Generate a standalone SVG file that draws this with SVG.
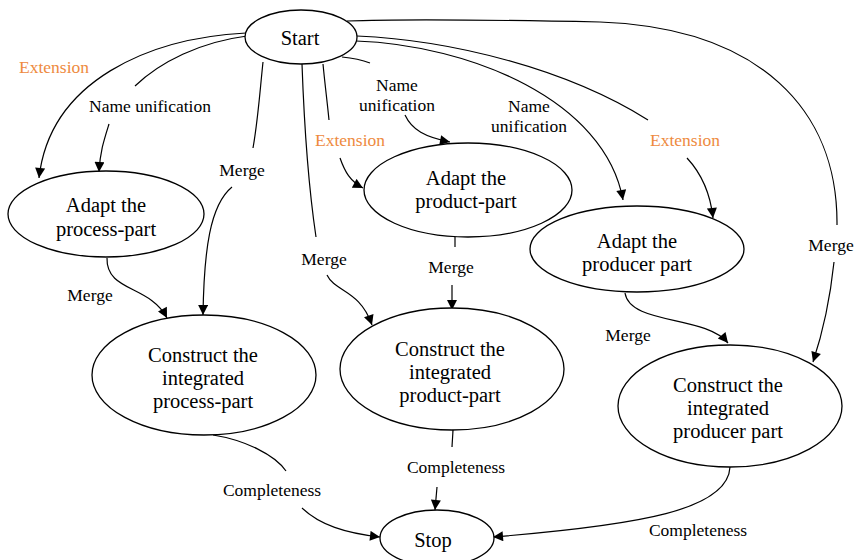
<svg xmlns="http://www.w3.org/2000/svg" width="855" height="560" viewBox="0 0 855 560" font-family="Liberation Serif, Times New Roman, serif">
  <style>
    .node ellipse { fill: #ffffff; stroke: #000000; stroke-width: 1.3; }
    .node text { font-size: 20.5px; fill: #000000; text-anchor: middle; }
    .edge { fill: none; stroke: #000000; stroke-width: 1.2; }
    .lbl { font-size: 17.5px; fill: #000000; text-anchor: middle; }
    .ext { fill: #EE8A3E; }
  </style>
  <defs>
    <marker id="arrow" viewBox="0 0 10 10" refX="10" refY="5" markerWidth="12" markerHeight="10" markerUnits="userSpaceOnUse" orient="auto">
      <path d="M0,0 L10,5 L0,10 z" fill="#000000"/>
    </marker>
  </defs>
  <rect width="855" height="560" fill="#ffffff"/>

  <!-- connectors -->
  <g id="connectors">
    <!-- Start -> Adapt the process-part (Extension) -->
    <path class="edge" d="M246,33 C150,38 50,80 39,178" marker-end="url(#arrow)"/>
    <!-- Start -> Adapt the process-part (Name unification) -->
    <path class="edge" d="M247,36 C200,42 160,62 135,86"/>
    <path class="edge" d="M109,124 C104,140 100,152 99,172" marker-end="url(#arrow)"/>
    <!-- Start -> Construct the integrated process-part (Merge) -->
    <path class="edge" d="M263,62 C260,90 258,120 253,148"/>
    <path class="edge" d="M232,187 C210,205 204,250 203,315" marker-end="url(#arrow)"/>
    <!-- Adapt the process-part -> Construct the integrated process-part (Merge) -->
    <path class="edge" d="M107,258 C106,292 150,285 167,318" marker-end="url(#arrow)"/>
    <!-- Start -> Adapt the product-part (Extension) -->
    <path class="edge" d="M323,64 C325,85 327,100 329,120"/>
    <path class="edge" d="M340,158 C345,172 350,181 363,188" marker-end="url(#arrow)"/>
    <!-- Start -> Construct the integrated product-part (Merge) -->
    <path class="edge" d="M302,64 C304,120 309,190 316,237"/>
    <path class="edge" d="M327,275 C335,292 360,290 372,325" marker-end="url(#arrow)"/>
    <!-- Start -> Adapt the product-part (Name unification) -->
    <path class="edge" d="M342,57 C352,58 362,60 370,63"/>
    <path class="edge" d="M405,115 C412,130 425,137 450,142" marker-end="url(#arrow)"/>
    <!-- Start -> Adapt the producer part (Name unification) -->
    <path class="edge" d="M356,41 C470,45 605,100 623,200" marker-end="url(#arrow)"/>
    <!-- Start -> Adapt the producer part (Extension) -->
    <path class="edge" d="M357,36 C450,40 565,68 648,120"/>
    <path class="edge" d="M687,158 C700,172 710,190 713,218" marker-end="url(#arrow)"/>
    <!-- Start -> Construct the integrated producer part (Merge) -->
    <path class="edge" d="M347,21 C400,19 500,20 600,22 C760,28 838,110 837,225"/>
    <path class="edge" d="M834,262 C830,300 822,335 813,362" marker-end="url(#arrow)"/>
    <!-- Adapt the product-part -> Construct the integrated product-part (Merge) -->
    <path class="edge" d="M455,237 L455,247"/>
    <path class="edge" d="M452,285 L452,310" marker-end="url(#arrow)"/>
    <!-- Adapt the producer part -> Construct the integrated producer part (Merge) -->
    <path class="edge" d="M625,293 C630,325 705,315 728,343" marker-end="url(#arrow)"/>
    <!-- Construct the integrated process-part -> Stop (Completeness) -->
    <path class="edge" d="M213,435 C245,440 275,455 286,471"/>
    <path class="edge" d="M302,508 C320,525 345,533 380,537" marker-end="url(#arrow)"/>
    <!-- Construct the integrated product-part -> Stop (Completeness) -->
    <path class="edge" d="M453,430 L452,447"/>
    <path class="edge" d="M437,487 L435,510" marker-end="url(#arrow)"/>
    <!-- Construct the integrated producer part -> Stop (Completeness) -->
    <path class="edge" d="M730,467 C728,510 640,525 493,537" marker-end="url(#arrow)"/>

    <!-- connector labels -->
    <text class="lbl ext" x="54" y="73">Extension</text>
    <text class="lbl" x="150" y="112">Name unification</text>
    <text class="lbl" x="242" y="176">Merge</text>
    <text class="lbl" x="397" y="91">Name</text>
    <text class="lbl" x="397" y="111">unification</text>
    <text class="lbl" x="529" y="112">Name</text>
    <text class="lbl" x="529" y="132">unification</text>
    <text class="lbl ext" x="350" y="146">Extension</text>
    <text class="lbl ext" x="685" y="146">Extension</text>
    <text class="lbl" x="324" y="265">Merge</text>
    <text class="lbl" x="451" y="273">Merge</text>
    <text class="lbl" x="90" y="301">Merge</text>
    <text class="lbl" x="831" y="251">Merge</text>
    <text class="lbl" x="628" y="341">Merge</text>
    <text class="lbl" x="456" y="473">Completeness</text>
    <text class="lbl" x="272" y="496">Completeness</text>
    <text class="lbl" x="698" y="536">Completeness</text>
  </g>

  <g id="start" class="node">
    <ellipse cx="301" cy="37" rx="56" ry="27"/>
    <text x="300" y="45">Start</text>
  </g>
  <g id="adapt-process" class="node">
    <ellipse cx="106" cy="214" rx="98" ry="43"/>
    <text x="106" y="212">Adapt the</text>
    <text x="106" y="236">process-part</text>
  </g>
  <g id="construct-process" class="node">
    <ellipse cx="204" cy="375" rx="112" ry="60"/>
    <text x="203" y="362">Construct the</text>
    <text x="203" y="385">integrated</text>
    <text x="203" y="408">process-part</text>
  </g>
  <g id="adapt-product" class="node">
    <ellipse cx="468" cy="190" rx="104" ry="47"/>
    <text x="466" y="185">Adapt the</text>
    <text x="466" y="208">product-part</text>
  </g>
  <g id="construct-product" class="node">
    <ellipse cx="452" cy="369" rx="112" ry="61"/>
    <text x="450" y="356">Construct the</text>
    <text x="450" y="379">integrated</text>
    <text x="450" y="402">product-part</text>
  </g>
  <g id="adapt-producer" class="node">
    <ellipse cx="637" cy="249" rx="107" ry="43"/>
    <text x="637" y="248">Adapt the</text>
    <text x="637" y="271">producer part</text>
  </g>
  <g id="construct-producer" class="node">
    <ellipse cx="730" cy="406" rx="112" ry="61"/>
    <text x="728" y="392">Construct the</text>
    <text x="728" y="415">integrated</text>
    <text x="728" y="438">producer part</text>
  </g>
  <g id="stop" class="node">
    <ellipse cx="437" cy="538" rx="57" ry="28"/>
    <text x="433" y="547">Stop</text>
  </g>
</svg>
